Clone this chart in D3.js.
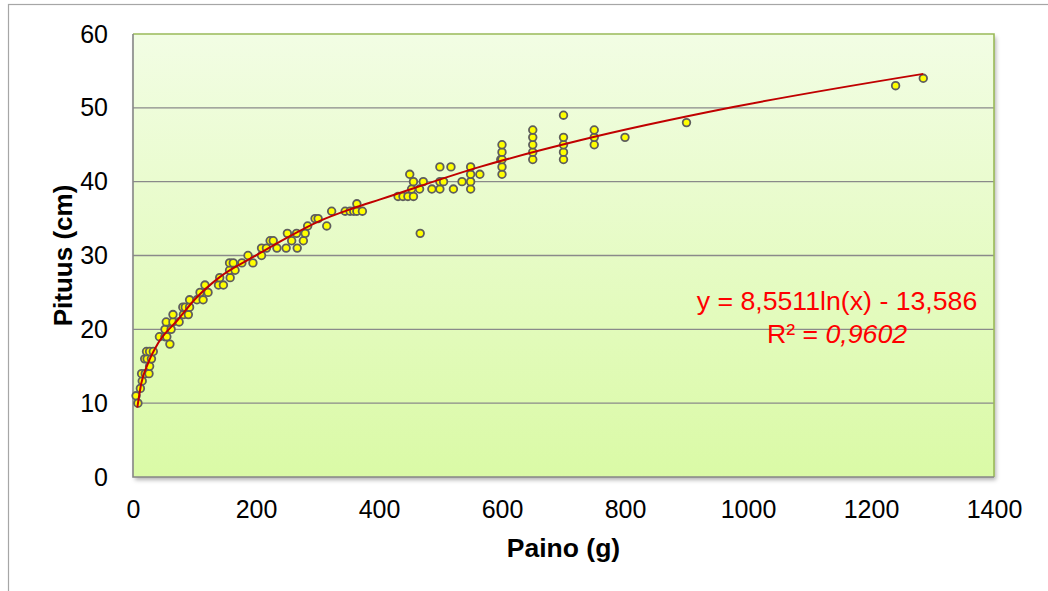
<!DOCTYPE html>
<html>
<head>
<meta charset="utf-8">
<script src="https://cdn.jsdelivr.net/npm/d3@7"></script>
<style>
  body { margin: 0; background: #fff; }
  svg { display: block; font-family: "Liberation Sans", Arial, sans-serif; }
</style>
</head>
<body>
<div id="chart"></div>
<script>
// Weight (g) and length (cm)
const paino = [5, 8, 12, 15, 14, 20, 26, 27, 19, 23, 30, 22, 27, 33,
  43, 52, 55, 60, 52, 62, 54, 65, 75, 65, 82, 90, 81, 85, 92,
  92, 104, 114, 109, 122, 117, 139, 147, 141, 158, 157, 166, 157, 163, 177, 195,
  187, 209, 209, 217, 234, 249, 267, 223, 228, 258, 277, 251, 266, 280,
  284, 315, 296, 301, 323, 345, 353, 359, 364, 373, 364,
  431, 439, 447, 456, 453, 466, 486, 499, 521, 549,
  456, 472, 499, 505, 535, 549, 450, 549, 564, 499, 517, 549, 467,
  600, 600, 598, 600, 600, 600,
  650, 650, 650, 650, 650,
  700, 700, 700, 700, 700,
  750, 750, 750, 800, 900, 1240, 1285];
const pituus = [11, 10, 12, 13, 14, 14, 14, 15, 16, 16, 16, 17, 17, 17,
  19, 19, 19, 18, 20, 20, 21, 21, 21, 22, 22, 22, 23, 23, 23,
  24, 24, 24, 25, 25, 26, 26, 26, 27, 27, 28, 28, 29, 29, 29, 29,
  30, 30, 31, 31, 31, 31, 31, 32, 32, 32, 32, 33, 33, 33,
  34, 34, 35, 35, 36, 36, 36, 36, 36, 36, 37,
  38, 38, 38, 38, 39, 39, 39, 39, 39, 39,
  40, 40, 40, 40, 40, 40, 41, 41, 41, 42, 42, 42, 33,
  41, 42, 43, 43, 44, 45,
  43, 44, 45, 46, 47,
  43, 44, 45, 46, 49,
  45, 46, 47, 46, 48, 53, 54];

// Trendline as it appears in the picture
const trendX = [7, 13.5, 24.4, 40.7, 73, 100, 141.5, 195.6, 250, 304, 358, 402, 564, 727, 976, 1285];
const trendY = [9.4, 12.7, 15.4, 18.1, 21.3, 24.0, 27.1, 29.8, 32.4, 34.7, 36.4, 37.6, 42.0, 45.6, 50.1, 54.6];

const xTicks = [0, 200, 400, 600, 800, 1000, 1200, 1400];
const yTicks = [0, 10, 20, 30, 40, 50, 60];

const eqLine = "y = 8,5511ln(x) - 13,586";
const r2Label = "R² = ";
const r2Value = "0,9602";

const width = 1048, height = 591;
const plot = { left: 133, top: 34, right: 994, bottom: 477 };

const svg = d3.select("#chart").append("svg")
  .attr("width", width)
  .attr("height", height);

// outer chart frame
svg.append("rect")
  .attr("x", 8.5).attr("y", 4.5)
  .attr("width", 1100).attr("height", 700)
  .attr("fill", "none")
  .attr("stroke", "#a6a6a6")
  .attr("stroke-width", 1.2);

const defs = svg.append("defs");
const grad = defs.append("linearGradient")
  .attr("id", "bg").attr("x1", 0).attr("y1", 0).attr("x2", 0).attr("y2", 1);
grad.append("stop").attr("offset", "0%").attr("stop-color", "#f2fde4");
grad.append("stop").attr("offset", "100%").attr("stop-color", "#dafaa6");

const shadow = defs.append("filter").attr("id", "shadow")
  .attr("x", "-5%").attr("y", "-5%").attr("width", "110%").attr("height", "110%");
shadow.append("feDropShadow")
  .attr("dx", 2).attr("dy", 3).attr("stdDeviation", 2)
  .attr("flood-color", "#000").attr("flood-opacity", 0.3);

const x = d3.scaleLinear().domain([0, 1400]).range([plot.left, plot.right]);
const y = d3.scaleLinear().domain([0, 60]).range([plot.bottom, plot.top]);

// plot area
svg.append("rect")
  .attr("x", plot.left).attr("y", plot.top)
  .attr("width", plot.right - plot.left).attr("height", plot.bottom - plot.top)
  .attr("fill", "url(#bg)")
  .attr("filter", "url(#shadow)");

// gridlines
svg.append("g")
  .selectAll("line")
  .data(yTicks.filter(d => d > 0 && d < 60))
  .enter()
  .append("line")
  .attr("x1", plot.left).attr("x2", plot.right)
  .attr("y1", d => y(d)).attr("y2", d => y(d))
  .attr("stroke", "#8a8a8a")
  .attr("stroke-width", 1.3);

// borders: green top/right, gray left/bottom
svg.append("path")
  .attr("d", `M${plot.left},${plot.top}H${plot.right}V${plot.bottom}`)
  .attr("fill", "none").attr("stroke", "#9bbb59").attr("stroke-width", 1.6);
svg.append("path")
  .attr("d", `M${plot.left},${plot.top}V${plot.bottom}H${plot.right}`)
  .attr("fill", "none").attr("stroke", "#868686").attr("stroke-width", 1.6);

// axes
const xAxis = svg.append("g")
  .attr("transform", `translate(0,${plot.bottom})`)
  .call(d3.axisBottom(x).tickValues(xTicks).tickSize(0).tickPadding(23).tickFormat(d3.format("d")));
const yAxis = svg.append("g")
  .attr("transform", `translate(${plot.left},0)`)
  .call(d3.axisLeft(y).tickValues(yTicks).tickSize(0).tickPadding(25).tickFormat(d3.format("d")));
[xAxis, yAxis].forEach(a => {
  a.select(".domain").remove();
  a.selectAll("text")
    .attr("font-family", "Liberation Sans, Arial, sans-serif")
    .attr("font-size", "25px")
    .attr("fill", "#000");
});

// axis titles
svg.append("text")
  .attr("x", (plot.left + plot.right) / 2)
  .attr("y", 557)
  .attr("text-anchor", "middle")
  .attr("font-size", "26.5px")
  .attr("font-weight", "bold")
  .text("Paino (g)");
svg.append("text")
  .attr("transform", `translate(72,${(plot.top + plot.bottom) / 2}) rotate(-90)`)
  .attr("text-anchor", "middle")
  .attr("font-size", "26px")
  .attr("font-weight", "bold")
  .text("Pituus (cm)");

// points
const points = paino.map((d, i) => ({ x: d, y: pituus[i] }));
svg.append("g")
  .selectAll("circle")
  .data(points)
  .enter()
  .append("circle")
  .attr("cx", d => x(d.x))
  .attr("cy", d => y(d.y))
  .attr("r", 3.8)
  .attr("fill", "#ffff00")
  .attr("stroke", "#5e5e5e")
  .attr("stroke-width", 1.8);

// trendline
const trend = trendX.map((d, i) => ({ x: d, y: trendY[i] }));
svg.append("path")
  .datum(trend)
  .attr("fill", "none")
  .attr("stroke", "#c00000")
  .attr("stroke-width", 2)
  .attr("d", d3.line().x(d => x(d.x)).y(d => y(d.y)).curve(d3.curveMonotoneX));

// equation label
svg.append("text")
  .attr("x", 837).attr("y", 310)
  .attr("text-anchor", "middle")
  .attr("font-size", "26.7px")
  .attr("fill", "#ff0000")
  .text(eqLine);
const r2 = svg.append("text")
  .attr("x", 837).attr("y", 343)
  .attr("text-anchor", "middle")
  .attr("font-size", "26.7px")
  .attr("fill", "#ff0000");
r2.append("tspan").text(r2Label);
r2.append("tspan").attr("font-style", "italic").text(r2Value);
</script>
</body>
</html>
